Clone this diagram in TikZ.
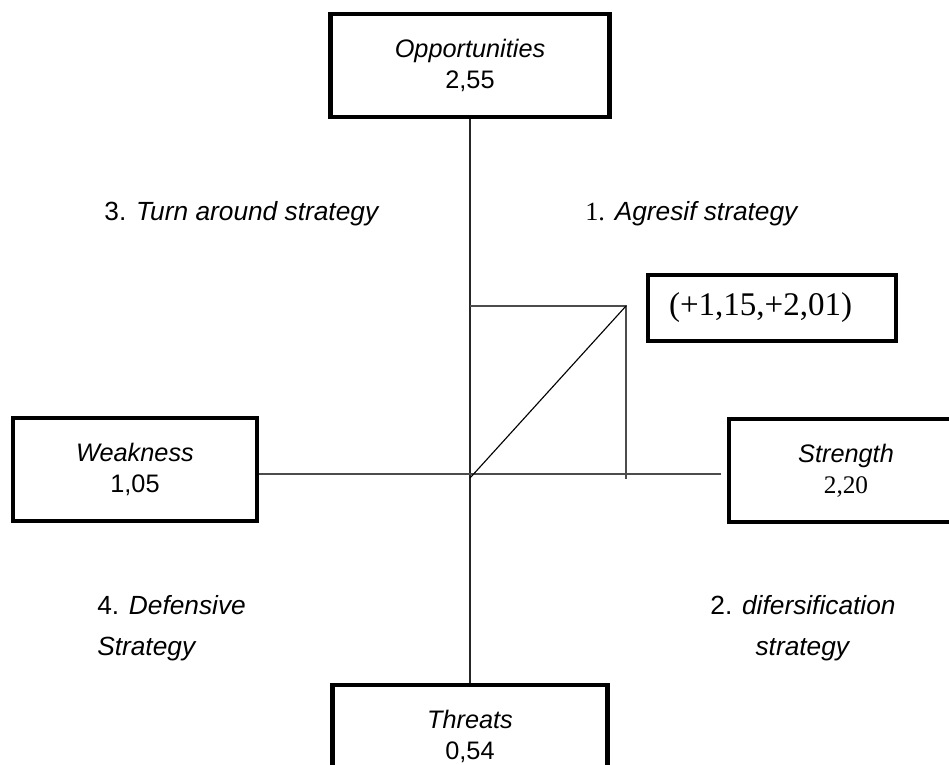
\documentclass[tikz,border=0pt]{standalone}
\usepackage{fontspec}
\setmainfont{Liberation Serif}
\setsansfont{Liberation Sans}
\begin{document}
\begin{tikzpicture}[
    box/.style={draw, rectangle, line width=3pt, minimum height=2.575cm, align=center, font=\sffamily\fontsize{18pt}{22pt}\selectfont},
    quad/.style={inner sep=0pt, font=\sffamily\fontsize{18.7pt}{29pt}\selectfont},
    axis/.style={line width=0.8pt, black!70}]
    \useasboundingbox (0,0) rectangle (23.725,19.1);
    \clip (0,0) rectangle (23.725,19.1);

    % kotak faktor SWOT
    \node[box, minimum width=6.975cm] (opp) at (11.75,17.4625) {\textit{Opportunities}\\2,55};
    \node[box, minimum width=6.875cm, anchor=north] (thr) at (11.75,2.025) {\textit{Threats}\\0,54};
    \node[box, minimum width=6.1cm] (weak) at (3.375,7.3625) {\textit{Weakness}\\1,05};
    \node[box, minimum width=5.85cm] (str) at (21.15,7.3375) {\textit{Strength}\\{\rmfamily 2,20}};
    \node[box, minimum height=1.65cm, text width=5.15cm, inner xsep=0.525cm, align=left, font=\rmfamily\fontsize{23.5pt}{28pt}\selectfont] (pt) at (19.3,11.4) {(+1,15,+2,01)};

    % kuadran
    \node[quad] (q3) at (6.05,13.75) {3. \textit{Turn around strategy}};
    \node[quad] (q1) at (17.3,13.75) {{\rmfamily 1.} \textit{Agresif strategy}};
    \node[quad, anchor=west, align=left] (q4) at (2.425,3.3875) {4. \textit{Defensive}\\\textit{Strategy}};
    \node[quad, align=center] (q2) at (20.075,3.3875) {2. \textit{difersification}\\\textit{strategy}};

    % sumbu dan titik
    \coordinate (O) at (11.75,7.25);
    \coordinate (O2) at (11.75,7.15);
    \coordinate (P) at (15.65,11.45);
    \coordinate (Pb) at (15.65,7.125);
    \draw[line width=0.8pt, black!85] (opp.south) -- (thr.north);
    \draw[axis, shorten >=1.5mm] (weak.east |- O) -- (str.west |- O);
    \draw[axis] (O |- P) -- (P) -- (Pb);
    \draw[line width=0.8pt] (O2) -- (P);
\end{tikzpicture}
\end{document}
